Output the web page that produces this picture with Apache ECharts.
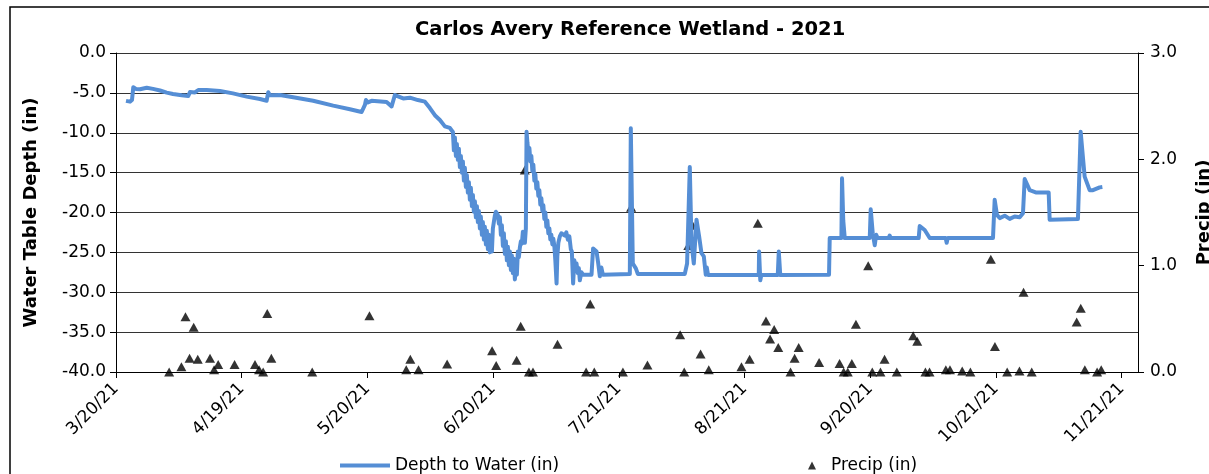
<!DOCTYPE html>
<html>
<head>
<meta charset="utf-8">
<script src="https://cdn.jsdelivr.net/npm/echarts@6/dist/echarts.min.js"></script>
<style>
  html, body { margin: 0; padding: 0; background: #fff; overflow: hidden; }
  #chart_0 { width: 1209px; height: 474px; }
</style>
</head>
<body>
<div id="chart_0"></div>
<script>
// x values are days counted from 3/20/21
var tickDays = [0, 30.75, 61.5, 92.25, 123, 153.75, 184.5, 215.25, 246];
var tickLabels = ['3/20/21', '4/19/21', '5/20/21', '6/20/21', '7/21/21', '8/21/21', '9/20/21', '10/21/21', '11/21/21'];

// depth to water (in)
var depthDays = [
  2.45, 3.42, 3.91, 4.23, 4.89, 5.87, 7.51, 9.05, 10.76, 12.40, 13.94, 16.07, 17.68, 18.10, 19.32, 20.13,
  22.18, 25.43, 28.61, 31.96, 35.21, 36.85, 37.24, 37.66, 40.10, 43.35, 48.24, 53.13, 57.22, 60.08, 60.89,
  61.13, 61.62, 62.53, 66.19, 67.42, 68.22, 70.25, 71.89, 73.85, 75.56, 76.78, 78.00, 79.23, 80.45, 81.67,
  82.41, 82.65, 82.90, 83.14, 83.38, 83.63, 83.87, 84.12, 84.36, 84.61, 84.85, 85.10, 85.34, 85.58, 85.83,
  86.07, 86.32, 86.56, 86.81, 87.05, 87.30, 87.54, 87.79, 88.03, 88.28, 88.52, 88.76, 89.01, 89.25, 89.50,
  89.74, 89.99, 90.23, 90.48, 90.72, 90.97, 91.21, 91.46, 91.70, 91.95, 92.19, 92.43, 92.68, 92.92, 93.17,
  93.41, 93.66, 93.90, 94.15, 94.39, 94.64, 94.88, 95.12, 95.37, 95.61, 95.86, 96.10, 96.35, 96.59, 96.84,
  97.08, 97.33, 97.57, 97.82, 98.06, 98.30, 98.55, 98.79, 99.04, 99.28, 99.53, 99.77, 100.02, 100.26,
  100.43, 100.63, 100.87, 101.12, 101.36, 101.60, 101.85, 102.09, 102.34, 102.58, 102.82, 103.07, 103.31,
  103.56, 103.80, 104.05, 104.29, 104.54, 104.78, 105.03, 105.27, 105.52, 105.76, 106.01, 106.25, 106.49,
  106.74, 106.98, 107.23, 107.47, 107.77, 107.96, 108.21, 108.57, 108.94, 109.38, 109.80, 110.16, 110.53,
  110.90, 111.26, 111.51, 111.82, 112.12, 112.36, 112.65, 112.97, 113.22, 113.46, 113.83, 114.27,
  116.32, 116.71, 117.13, 117.55, 117.99, 118.35, 118.72, 119.09, 125.69, 125.93, 126.42, 127.16, 127.64,
  139.14, 139.70, 140.36, 140.78, 141.34, 142.00, 142.64, 143.22, 143.79, 144.27, 144.52, 144.83, 157.23,
  157.31, 157.60, 157.85, 161.88, 162.13, 162.49, 174.42, 174.59, 177.45, 177.60, 177.90, 178.26, 184.38,
  184.62, 185.11, 185.60, 185.96, 186.33, 189.02, 189.26, 189.51, 196.36, 196.60, 197.82, 199.05, 202.96,
  203.20, 203.45, 214.53, 214.94, 215.50, 216.16, 217.39, 218.61, 219.83, 221.06, 221.86, 222.28, 223.50,
  225.14, 228.15, 228.39, 235.31, 235.97, 236.95, 238.17, 238.98, 240.62, 241.28
];
var depthValues = [
  -6.0, -6.1, -5.9, -4.3, -4.5, -4.55, -4.35, -4.5, -4.7, -4.97, -5.14, -5.3, -5.4, -4.9, -4.95, -4.64,
  -4.64, -4.76, -5.06, -5.47, -5.77, -5.98, -4.93, -5.3, -5.27, -5.56, -5.98, -6.6, -7.06, -7.4, -6.5,
  -5.9, -6.2, -6.0, -6.14, -6.7, -5.27, -5.7, -5.6, -5.9, -6.1, -6.9, -7.8, -8.4, -9.2, -9.4,
  -9.9, -12.2, -10.6, -12.9, -11.4, -13.4, -12.0, -14.3, -12.9, -15.0, -13.6, -16.0, -14.4, -16.8, -15.3,
  -17.5, -16.2, -18.4, -16.9, -19.2, -17.8, -19.9, -18.6, -20.6, -19.2, -21.2, -19.8, -22.0, -20.5, -22.8,
  -21.2, -23.4, -21.8, -24.0, -22.3, -24.6, -22.8, -25.0, -23.0, -24.9, -22.0, -21.2, -20.4, -19.9, -19.7,
  -20.3, -21.4, -20.6, -22.8, -21.6, -24.2, -22.6, -25.2, -23.6, -26.0, -24.3, -26.6, -24.9, -27.2, -25.4,
  -27.6, -25.8, -28.4, -26.4, -27.8, -24.9, -25.6, -24.4, -23.6, -23.9, -22.4, -23.2, -23.8, -22.0,
  -9.87, -11.2, -12.4, -11.9, -13.6, -12.9, -14.8, -14.0, -16.0, -15.2, -17.0, -16.2, -17.9,
  -17.2, -19.0, -18.2, -19.8, -19.1, -20.8, -20.0, -21.8, -21.0, -22.6, -22.0, -23.4, -22.8,
  -24.0, -23.3, -24.2, -26.0, -28.9, -25.5, -23.8, -23.0, -22.6, -22.4, -22.9, -22.5, -23.4,
  -23.0, -24.6, -24.9, -28.9, -26.0, -27.0, -26.4, -27.6, -27.0, -28.5, -27.5, -27.8,
  -27.8, -24.5, -24.6, -24.9, -26.5, -28.0, -26.9, -27.8, -27.7, -9.44, -26.4, -27.0, -27.7,
  -27.7, -26.4, -14.3, -23.9, -26.4, -20.9, -23.0, -25.1, -25.5, -27.8, -26.9, -27.84, -27.84,
  -24.9, -28.5, -27.84, -27.84, -24.9, -27.84, -27.8, -23.2, -23.2, -15.7, -21.0, -23.2, -23.2,
  -19.6, -22.6, -24.1, -22.8, -23.2, -23.2, -22.9, -23.2, -23.2, -21.7, -22.2, -23.2, -23.2,
  -23.8, -23.2, -23.2, -18.4, -20.3, -20.7, -20.4, -20.8, -20.5, -20.6, -20.1, -15.8, -17.2,
  -17.5, -17.5, -20.9, -20.8, -9.87, -15.5, -17.2, -17.2, -16.85, -16.8
];

// daily precipitation (in)
var precipDays = [
  13, 16, 17, 18, 19, 20, 23, 24, 25, 29, 34, 35, 36, 37, 38, 48, 62, 71, 72, 74, 81, 92, 93, 98, 99,
  100, 101, 102, 108, 115, 116, 117, 124, 126, 130, 138, 139, 140, 141, 143, 145, 153, 155, 157, 159,
  160, 161, 162, 165, 166, 167, 172, 177, 178, 179, 180, 181, 184, 185, 187, 188, 191, 195, 196, 198,
  199, 203, 204, 207, 209, 214, 215, 218, 221, 222, 224, 235, 236, 237, 240, 241
];
var precipValues = [
  0.0, 0.05, 0.52, 0.13, 0.42, 0.12, 0.13, 0.02, 0.07, 0.07, 0.07, 0.02, 0.0, 0.55, 0.13, 0.0, 0.53, 0.02, 0.12, 0.02, 0.075, 0.20, 0.06, 0.11, 0.43,
  1.90, 0.0, 0.0, 0.26, 0.0, 0.64, 0.0, 0.0, 1.55, 0.065, 0.35, 0.0, 1.19, 1.38, 0.17, 0.02, 0.05, 0.12, 1.40, 0.48,
  0.31, 0.40, 0.23, 0.0, 0.13, 0.23, 0.09, 0.08, 0.0, 0.0, 0.08, 0.45, 1.0, 0.0, 0.0, 0.12, 0.0, 0.34, 0.29, 0.0,
  0.0, 0.02, 0.02, 0.01, 0.0, 1.06, 0.24, 0.0, 0.01, 0.75, 0.0, 0.47, 0.60, 0.02, 0.0, 0.02
];

var fontName = 'DejaVu Sans';

function drawChart() {
  var myChart = echarts.init(document.getElementById('chart_0'));

  var depthData = depthDays.map(function (d, i) { return [d, depthValues[i]]; });
  var precipData = precipDays.map(function (d, i) { return [d, precipValues[i]]; });

  var option = {
    animation: false,
    backgroundColor: '#fff',
    textStyle: { fontFamily: fontName, color: '#000' },
    title: {
      text: 'Carlos Avery Reference Wetland - 2021',
      left: 410,
      top: 15,
      textStyle: { fontFamily: fontName, fontSize: 19.5, fontWeight: 'bold', color: '#000' }
    },
    legend: [
      {
        data: ['Depth to Water (in)'],
        left: 335,
        top: 452,
        icon: 'rect',
        itemWidth: 50,
        itemHeight: 4,
        textStyle: { fontFamily: fontName, fontSize: 17, color: '#000' }
      },
      {
        data: ['Precip (in)'],
        left: 803,
        top: 452,
        icon: 'triangle',
        itemWidth: 8,
        itemHeight: 8,
        textStyle: { fontFamily: fontName, fontSize: 17, color: '#000', padding: [0, 0, 0, 10] }
      }
    ],
    grid: {
      left: 116,
      right: 71,
      top: 53,
      bottom: 102,
      outerBoundsMode: 'none'
    },
    xAxis: {
      type: 'value',
      min: 0,
      max: 250,
      axisLine: { show: true, onZero: false, lineStyle: { color: '#000', width: 1 } },
      axisTick: {
        show: true,
        customValues: tickDays,
        length: 6,
        lineStyle: { color: '#000' }
      },
      axisLabel: {
        customValues: tickDays,
        rotate: 45,
        margin: 14,
        fontFamily: fontName,
        fontSize: 17,
        color: '#000',
        formatter: function (v) {
          var i = tickDays.indexOf(v);
          return i >= 0 ? tickLabels[i] : '';
        }
      },
      splitLine: { show: false }
    },
    yAxis: [
      {
        type: 'value',
        min: -40,
        max: 0,
        interval: 5,
        name: 'Water Table Depth (in)',
        nameLocation: 'middle',
        nameRotate: 90,
        nameGap: 76,
        nameTextStyle: { fontFamily: fontName, fontSize: 18, fontWeight: 'bold', color: '#000' },
        axisLine: { show: true, lineStyle: { color: '#000', width: 1 } },
        axisTick: { show: true, length: 6, lineStyle: { color: '#000' } },
        axisLabel: {
          fontFamily: fontName,
          fontSize: 17,
          color: '#000',
          margin: 10,
          formatter: function (v) { return v.toFixed(1); }
        },
        splitLine: { show: true, lineStyle: { color: '#333', width: 1 } }
      },
      {
        type: 'value',
        min: 0,
        max: 3,
        interval: 1,
        position: 'right',
        name: 'Precip (in)',
        nameLocation: 'middle',
        nameRotate: 90,
        nameGap: 57,
        nameTextStyle: { fontFamily: fontName, fontSize: 18, fontWeight: 'bold', color: '#000' },
        axisLine: { show: true, lineStyle: { color: '#000', width: 1 } },
        axisTick: { show: true, length: 6, lineStyle: { color: '#000' } },
        axisLabel: {
          fontFamily: fontName,
          fontSize: 17,
          color: '#000',
          margin: 12,
          formatter: function (v) { return v.toFixed(1); }
        },
        splitLine: { show: false }
      }
    ],
    graphic: [
      {
        type: 'polyline',
        silent: true,
        shape: { points: [[10, 474], [10, 7], [1209, 7]] },
        style: { stroke: '#000', lineWidth: 1.5, fill: null }
      }
    ],
    series: [
      {
        name: 'Depth to Water (in)',
        type: 'line',
        yAxisIndex: 0,
        data: depthData,
        showSymbol: false,
        symbol: 'none',
        lineStyle: { color: '#558ed5', width: 4, join: 'round' },
        itemStyle: { color: '#558ed5' }
      },
      {
        name: 'Precip (in)',
        type: 'scatter',
        yAxisIndex: 1,
        data: precipData,
        symbol: 'triangle',
        symbolSize: [10, 9],
        itemStyle: { color: '#000' }
      }
    ]
  };

  myChart.setOption(option);
  window.addEventListener('resize', function () {
    myChart.resize();
  });
}

drawChart();
</script>
</body>
</html>
